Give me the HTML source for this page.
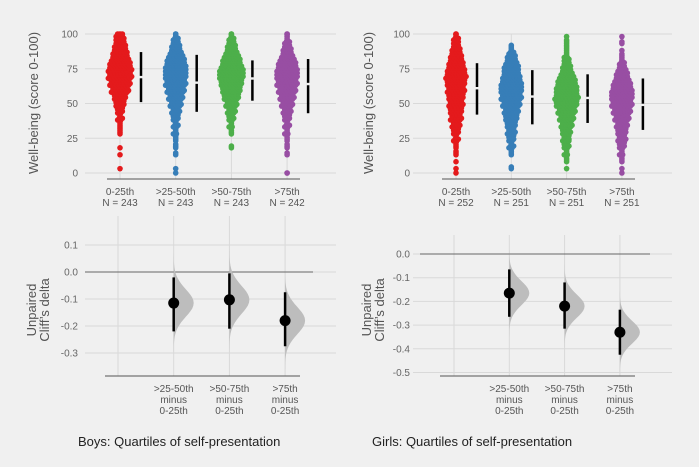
<!DOCTYPE html>
<html><head><meta charset="utf-8"><style>
body{margin:0;background:#f0f0f0;}
svg{display:block;font-family:"Liberation Sans",sans-serif;}
</style></head><body>
<svg id="chart" width="699" height="467" viewBox="0 0 699 467">
<rect width="699" height="467" fill="#f0f0f0"/>
</svg>
<script>
// ---- data ----
const groups = ["0-25th", ">25-50th", ">50-75th", ">75th"];
const bins = [0,5,10,15,20,25,30,35,40,45,50,55,60,65,70,75,80,85,90,95,100];
const boysN = [243, 243, 243, 242];
const girlsN = [252, 251, 251, 251];
const boysCounts0 = [0,1,0,1,1,0,4,4,6,8,12,16,22,26,30,30,26,20,16,12,9];
const boysCounts1 = [1,1,0,2,3,4,5,6,8,10,14,18,22,26,28,28,24,18,12,8,4];
const boysCounts2 = [0,0,0,0,2,0,3,5,7,10,14,20,24,28,32,30,24,18,12,8,4];
const boysCounts3 = [2,0,0,2,3,3,5,6,8,10,14,18,22,26,28,26,22,14,10,6,4];
const girlsCounts0 = [1,1,1,3,4,6,8,10,14,16,18,20,22,24,26,22,18,14,10,8,4];
const girlsCounts1 = [0,2,0,4,6,8,10,12,16,18,22,26,28,26,22,20,14,10,4,0,0];
const girlsCounts2 = [0,1,3,5,7,9,11,14,18,22,28,30,28,24,18,12,8,5,4,3,1];
const girlsCounts3 = [1,1,3,5,8,10,12,14,18,22,26,28,26,22,16,10,6,3,1,2,1];
const boysHigh = [87, 85, 81, 82];
const boysMedian = [69, 65, 68, 64];
const boysLow = [51, 44, 52, 43];
const girlsHigh = [79, 74, 71, 68];
const girlsMedian = [61, 55, 54, 49];
const girlsLow = [42, 35, 36, 31];
const boysDelta = [-0.115, -0.103, -0.18];
const boysDeltaHi = [-0.02, -0.005, -0.075];
const boysDeltaLo = [-0.22, -0.21, -0.275];
const girlsDelta = [-0.165, -0.22, -0.33];
const girlsDeltaHi = [-0.065, -0.12, -0.235];
const girlsDeltaLo = [-0.265, -0.315, -0.425];
const topTicks = [0, 25, 50, 75, 100];
const boysDeltaTicks = [0.1, 0.0, -0.1, -0.2, -0.3];
const girlsDeltaTicks = [0.0, -0.1, -0.2, -0.3, -0.4, -0.5];
const deltaLabels = [">25-50th", ">50-75th", ">75th"];
const colors = ["#e41a1c", "#377eb8", "#4daf4a", "#984ea3"];

const svg = document.getElementById('chart');
const NS = "http://www.w3.org/2000/svg";
function mk(tag, attrs, parent){
  const e = document.createElementNS(NS, tag);
  for (const k in attrs) e.setAttribute(k, attrs[k]);
  (parent || svg).appendChild(e);
  return e;
}
function txt(x, y, s, anchor, size, fill, parent){
  const t = mk('text', {x:x, y:y, 'text-anchor':anchor, 'font-size':size, fill:fill}, parent);
  t.textContent = s;
  return t;
}

function panel(cfg){
  const yTop = v => 173 - v * 1.39;
  const xCol = i => cfg.x0 + i * cfg.dx;
  const g = mk('g', {});
  
  
  topTicks.forEach(t => {
    const l = mk('line', {x1:cfg.gx0, x2:cfg.gx1, y1:yTop(t), y2:yTop(t), stroke:'#d9d9d9', 'stroke-width':1}, g);
    
    
    const tl = txt(cfg.tickX, yTop(t) + 3.5, String(t), 'end', 10, '#666', g);
    
    
  });
  groups.forEach((_, i) => {
    const l = mk('line', {x1:xCol(i), x2:xCol(i), y1:yTop(100), y2:179, stroke:'#d9d9d9', 'stroke-width':1}, g);
    
    
  });
  const ax = mk('line', {x1:cfg.ax0, x2:cfg.ax1, y1:179, y2:179, stroke:'#555', 'stroke-width':1}, g);
  
  
  const yt = txt(0, 0, 'Well-being (score 0-100)', 'middle', 13, '#555', g);
  yt.setAttribute('transform', 'translate(' + cfg.ytitleX + ',103) rotate(-90)');
  
  
  cfg.counts.forEach((counts, i) => {
    const sg = mk('g', {fill: colors[i]}, g);
    
    
    counts.forEach((c, b) => {
      const sub = [0,0,0,0];
      for (let k = 0; k < c; k++) sub[k % 4]++;
      sub.forEach((n, r) => {
        let v = bins[b] - 1.875 + r * 1.25;
        v = Math.max(0, Math.min(100, v));
        for (let k = 0; k < n; k++){
          const off = (k - (n - 1) / 2) * 3.1 + (r % 2 ? 0.8 : -0.8) * (n > 1 ? 1 : 0);
          const d = mk('circle', {cx: xCol(i) + off, cy: yTop(v), r: 2.8}, sg);
          
          
        }
      });
    });
    const ex = xCol(i) + 21;
    const eb = mk('line', {x1:ex, x2:ex, y1:yTop(cfg.high[i]), y2:yTop(cfg.low[i]), stroke:'#000', 'stroke-width':2.5}, g);
    
    
    const gap = mk('line', {x1:ex, x2:ex, y1:yTop(cfg.median[i]) - 1.2, y2:yTop(cfg.median[i]) + 1.2, stroke:'#f0f0f0', 'stroke-width':3}, g);
    
    
    const l1 = txt(xCol(i), 195, groups[i], 'middle', 10, '#555', g);
    
    
    const l2 = txt(xCol(i), 206, 'N = ' + cfg.n[i], 'middle', 10, '#555', g);
    
    
  });

  const dg = mk('g', {});
  
  
  const yD = v => cfg.d0 - v * cfg.dScale;
  const dx = i => cfg.dx0 + i * cfg.dx;
  cfg.dTicks.forEach(t => {
    const l = mk('line', {x1:cfg.gx0, x2:cfg.gx1, y1:yD(t), y2:yD(t), stroke:'#d9d9d9', 'stroke-width':1}, dg);
    
    
    const tl = txt(cfg.tickX, yD(t) + 3.5, t.toFixed(1), 'end', 10, '#666', dg);
    
    
  });
  for (let i = 0; i < 4; i++){
    const l = mk('line', {x1:dx(i), x2:dx(i), y1:cfg.dTop, y2:376, stroke:'#d9d9d9', 'stroke-width':1}, dg);
    
    
  }
  const zl = mk('line', {x1:cfg.z0, x2:cfg.z1, y1:yD(0), y2:yD(0), stroke:'#666', 'stroke-width':1}, dg);
  
  
  const dax = mk('line', {x1:cfg.ax0 - 2, x2:cfg.ax1, y1:376, y2:376, stroke:'#555', 'stroke-width':1}, dg);
  
  
  const dt = mk('text', {'text-anchor':'middle', 'font-size':13, fill:'#555', transform:'translate(' + (cfg.ytitleX - 2) + ',310) rotate(-90)'}, dg);
  
  
  const s1 = mk('tspan', {x:0, dy:0}, dt); s1.textContent = 'Unpaired';
  const s2 = mk('tspan', {x:0, dy:13}, dt); s2.textContent = 'Cliff\u2019s delta';
  cfg.delta.forEach((m, i) => {
    const x = dx(i + 1);
    const sd = (cfg.dHi[i] - cfg.dLo[i]) / 3.92;
    let pts = [];
    for (let k = -4; k <= 4.001; k += 0.2){
      const v = m + k * sd;
      pts.push((x + 20 * Math.exp(-k * k / 2)).toFixed(1) + ',' + yD(v).toFixed(1));
    }
    pts.push(x + ',' + yD(m - 4 * sd).toFixed(1));
    pts.push(x + ',' + yD(m + 4 * sd).toFixed(1));
    const p = mk('polygon', {points: pts.join(' '), fill:'#bdbdbd'}, dg);
    
    
    const ci = mk('line', {x1:x, x2:x, y1:yD(cfg.dHi[i]), y2:yD(cfg.dLo[i]), stroke:'#000', 'stroke-width':2.5}, dg);
    
    
    const c = mk('circle', {cx:x, cy:yD(m), r:5.5, fill:'#000'}, dg);
    
    
    ['' + deltaLabels[i], 'minus', '0-25th'].forEach((s, k) => {
      const t = txt(x, 392 + k * 11, s, 'middle', 10, '#555', dg);
      
      
    });
  });
  const tt = txt(cfg.titleX, 446, cfg.title, 'start', 13, '#222');
  
  
}

panel({name:'boys', x0:120, dx:55.7, gx0:85, gx1:336, ax0:107, ax1:300, tickX:78, ytitleX:38,
  counts:[boysCounts0, boysCounts1, boysCounts2, boysCounts3], n:boysN,
  high:boysHigh, median:boysMedian, low:boysLow,
  d0:272, dScale:270, dTicks:boysDeltaTicks, dTop:216, dx0:118, z0:85, z1:313,
  delta:boysDelta, dHi:boysDeltaHi, dLo:boysDeltaLo,
  title:'Boys: Quartiles of self-presentation', titleX:78});
panel({name:'girls', x0:456, dx:55.3, gx0:413, gx1:672, ax0:442, ax1:635, tickX:410, ytitleX:373,
  counts:[girlsCounts0, girlsCounts1, girlsCounts2, girlsCounts3], n:girlsN,
  high:girlsHigh, median:girlsMedian, low:girlsLow,
  d0:254, dScale:237, dTicks:girlsDeltaTicks, dTop:235, dx0:454, z0:420, z1:650,
  delta:girlsDelta, dHi:girlsDeltaHi, dLo:girlsDeltaLo,
  title:'Girls: Quartiles of self-presentation', titleX:372});
</script>
</body></html>
